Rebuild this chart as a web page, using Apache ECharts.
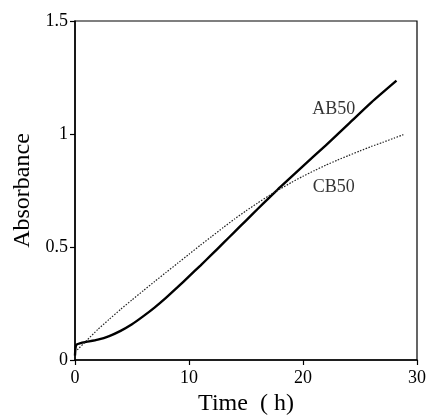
<!DOCTYPE html>
<html>
<head>
<meta charset="utf-8">
<script src="https://cdn.jsdelivr.net/npm/echarts@6/dist/echarts.min.js"></script>
<style>
	html, body { margin: 0; padding: 0; background: #fff; }
	#chart { width: 426px; height: 415px; }
</style>
</head>
<body>
<div id="chart"></div>
<script>
// AB50 (solid line)
var abTime = [0, 0.1, 0.5, 1, 2, 3, 4, 5, 6, 7, 8, 9, 10, 11, 12, 13, 14, 15, 16, 17, 18, 20, 22, 24, 26, 28.2];
var abValue = [0.02, 0.066, 0.075, 0.08, 0.09, 0.106, 0.129, 0.158, 0.194, 0.233, 0.276, 0.322, 0.37, 0.418, 0.467, 0.517, 0.567, 0.617, 0.667, 0.716, 0.765, 0.858, 0.95, 1.045, 1.14, 1.236];

// CB50 (dotted line)
var cbTime = [0.2, 1, 2, 3, 4, 5, 6, 7, 8, 9, 10, 11, 12, 13, 14, 15, 16, 17, 18, 19, 20, 21, 22, 23, 24, 25, 26, 27, 28, 28.8];
var cbValue = [0.045, 0.085, 0.135, 0.18, 0.224, 0.266, 0.307, 0.348, 0.388, 0.428, 0.468, 0.508, 0.547, 0.586, 0.624, 0.66, 0.694, 0.727, 0.757, 0.786, 0.813, 0.838, 0.862, 0.884, 0.905, 0.925, 0.945, 0.963, 0.982, 0.997];

// curve labels [text, time, absorbance]
var curveLabels = [['AB50', 22.7, 1.11], ['CB50', 22.7, 0.763]];

var xTicks = [0, 10, 20, 30];
var yTicks = [0, 0.5, 1, 1.5];

var FONT = "'Liberation Serif', 'Times New Roman', serif";

function pairs(xs, ys) {
	var out = [];
	for (var i = 0; i < xs.length; i++) {
		out.push([xs[i], ys[i]]);
	}
	return out;
}

var chart = echarts.init(document.getElementById('chart'));

var option = {
	animation: false,
	backgroundColor: '#fff',
	grid: {
		left: 75,
		right: 9,
		top: 21,
		bottom: 55,
		outerBoundsMode: 'none',
		containLabel: false,
		show: true,
		borderColor: '#000',
		borderWidth: 1.2
	},
	xAxis: {
		type: 'value',
		min: xTicks[0],
		max: xTicks[xTicks.length - 1],
		interval: xTicks[1] - xTicks[0],
		name: 'Time  ( h)',
		nameLocation: 'middle',
		nameGap: 27,
		nameTextStyle: { fontFamily: FONT, fontSize: 24, color: '#000' },
		axisLine: { lineStyle: { color: '#000', width: 1.5 } },
		axisTick: { inside: false, length: 5, lineStyle: { color: '#000', width: 1.2 } },
		axisLabel: { margin: 9, fontFamily: FONT, fontSize: 18, color: '#000' },
		splitLine: { show: false }
	},
	yAxis: {
		type: 'value',
		min: yTicks[0],
		max: yTicks[yTicks.length - 1],
		interval: yTicks[1] - yTicks[0],
		name: 'Absorbance',
		nameLocation: 'middle',
		nameGap: 38,
		nameTextStyle: { fontFamily: FONT, fontSize: 24, color: '#000' },
		axisLine: { lineStyle: { color: '#000', width: 1.5 } },
		axisTick: { inside: false, length: 5, lineStyle: { color: '#000', width: 1.2 } },
		axisLabel: { margin: 7, fontFamily: FONT, fontSize: 18, color: '#000' },
		splitLine: { show: false }
	},
	series: [
		{
			name: 'AB50',
			type: 'line',
			data: pairs(abTime, abValue),
			showSymbol: false,
			smooth: 0.2,
			lineStyle: { color: '#000', width: 2.4 }
		},
		{
			name: 'CB50',
			type: 'line',
			data: pairs(cbTime, cbValue),
			showSymbol: false,
			smooth: 0.2,
			lineStyle: { color: '#222', width: 1.2, type: [1.5, 1.5] }
		},
		{
			type: 'scatter',
			symbolSize: 0,
			silent: true,
			data: curveLabels.map(function (d) { return { value: [d[1], d[2]], name: d[0] }; }),
			label: {
				show: true,
				position: 'inside',
				formatter: '{b}',
				fontFamily: FONT,
				fontSize: 18,
				color: '#000'
			}
		}
	]
};

chart.setOption(option);
</script>
</body>
</html>
